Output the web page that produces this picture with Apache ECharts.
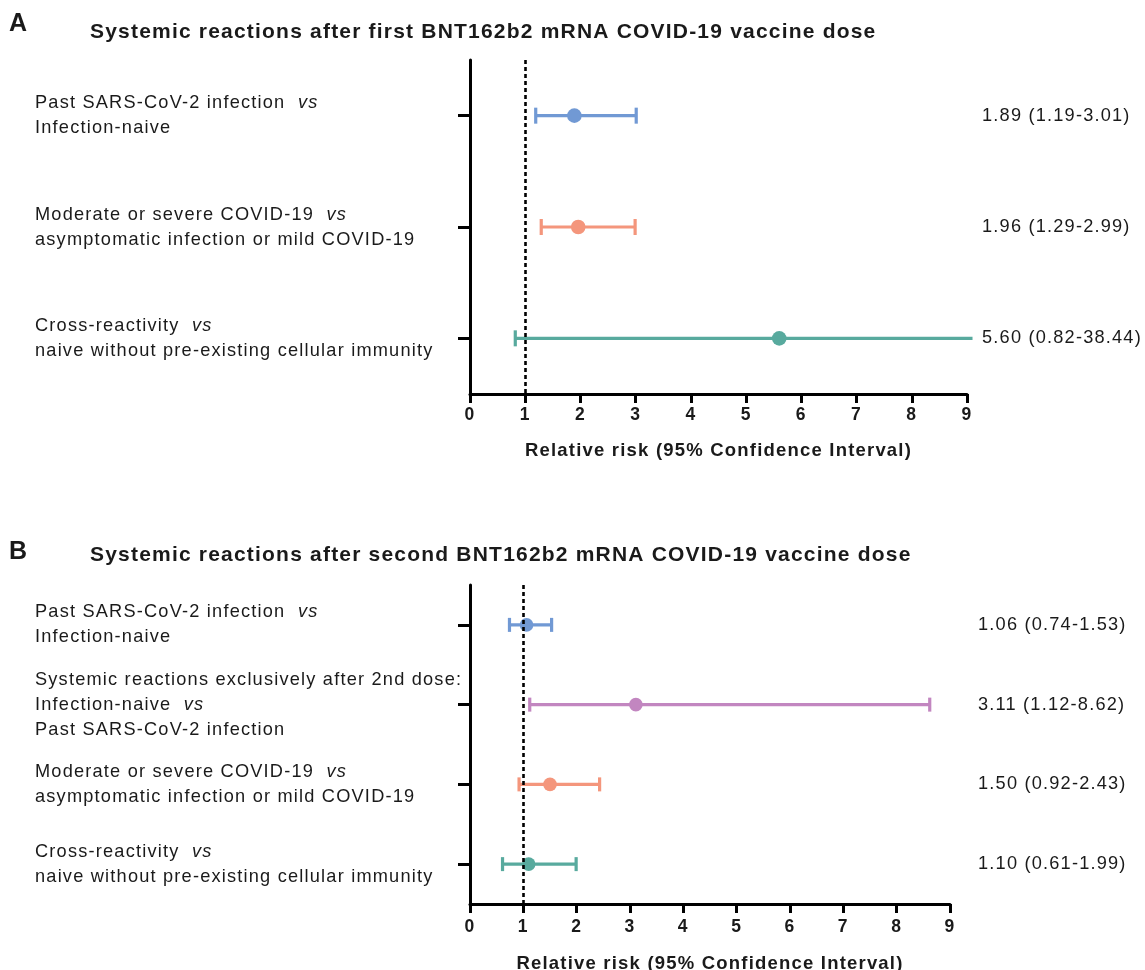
<!DOCTYPE html>
<html>
<head>
<meta charset="utf-8">
<script src="https://cdn.jsdelivr.net/npm/echarts@6/dist/echarts.min.js"></script>
<style>
html,body{margin:0;padding:0;background:#fff;}
#chart{width:1145px;height:970px;}
</style>
</head>
<body>
<div id="chart"></div>
<script>
// ---- Data: panel A (first dose) ----
const categoriesA = [
  "Past SARS-CoV-2 infection  vs\nInfection-naive",
  "Moderate or severe COVID-19  vs\nasymptomatic infection or mild COVID-19",
  "Cross-reactivity  vs\nnaive without pre-existing cellular immunity"
];
const estimateA = [1.89, 1.96, 5.60];
const lowerA    = [1.19, 1.29, 0.82];
const upperA    = [3.01, 2.99, 38.44];

// ---- Data: panel B (second dose) ----
const categoriesB = [
  "Past SARS-CoV-2 infection  vs\nInfection-naive",
  "Systemic reactions exclusively after 2nd dose:\nInfection-naive  vs\nPast SARS-CoV-2 infection",
  "Moderate or severe COVID-19  vs\nasymptomatic infection or mild COVID-19",
  "Cross-reactivity  vs\nnaive without pre-existing cellular immunity"
];
const estimateB = [1.06, 3.11, 1.50, 1.10];
const lowerB    = [0.74, 1.12, 0.92, 0.61];
const upperB    = [1.53, 8.62, 2.43, 1.99];

const xTicks = [0, 1, 2, 3, 4, 5, 6, 7, 8, 9];
const axisTitle = "Relative risk (95% Confidence Interval)";
const titleA = "Systemic reactions after first BNT162b2 mRNA COVID-19 vaccine dose";
const titleB = "Systemic reactions after second BNT162b2 mRNA COVID-19 vaccine dose";

// ---- Styles ----
const colorsA = ["#7199d4", "#f4967c", "#58aa9e"];
const colorsB = ["#7199d4", "#c286c0", "#f4967c", "#58aa9e"];
const FONT = "'Liberation Sans', Arial, Helvetica, sans-serif";
const TXT = "#1a1a1a";
const LETTER_SPACING = "1.2px";
const LABEL_SIZE = 18.2;

function fmt(v){ return v.toFixed(2); }
function ciText(est, lo, hi){
  return est.map((e,i)=> fmt(e) + " (" + fmt(lo[i]) + "-" + fmt(hi[i]) + ")");
}
const rightA = ciText(estimateA, lowerA, upperA);
const rightB = ciText(estimateB, lowerB, upperB);

function richLabel(value){
  return value.split("\n").map(line=>{
    if (/\s+vs$/.test(line)) {
      return "{n|" + line.replace(/vs$/, "") + "}{i|vs}";
    }
    return "{n|" + line + "}";
  }).join("\n");
}

const xMin = xTicks[0], xMax = xTicks[xTicks.length-1];

function makeRender(colors, capHalf, radius){
  return function(params, api){
    const cat = api.value(0);
    const lo = api.value(1), hi = api.value(2), est = api.value(3);
    const overflow = xMax + 0.1;
    const hiDraw = Math.min(hi, overflow);
    const pLo = api.coord([lo, cat]);
    const pHi = api.coord([hiDraw, cat]);
    const pE = api.coord([est, cat]);
    const c = colors[params.dataIndex];
    const st = {stroke: c, lineWidth: 3.2};
    const children = [
      {type:'line', shape:{x1:pLo[0], y1:pLo[1], x2:pHi[0], y2:pHi[1]}, style: st},
      {type:'line', shape:{x1:pLo[0], y1:pLo[1]-capHalf, x2:pLo[0], y2:pLo[1]+capHalf}, style: st}
    ];
    if (hi <= overflow) {
      children.push({type:'line', shape:{x1:pHi[0], y1:pHi[1]-capHalf, x2:pHi[0], y2:pHi[1]+capHalf}, style: st});
    }
    children.push({type:'circle', shape:{cx:pE[0], cy:pE[1], r:radius}, style:{fill:c}});
    return {type:'group', children};
  };
}

function xAxisCfg(gi, margin, gap){
  return {
    gridIndex: gi, type:'value', min:xMin, max:xMax, interval:1,
    axisLine:{show:true, lineStyle:{color:'#000', width:3}},
    axisTick:{show:true, length:9, lineStyle:{color:'#000', width:3}},
    splitLine:{show:false},
    axisLabel:{color:TXT, fontFamily:FONT, fontSize:17.5, fontWeight:'bold', margin:margin},
    name: axisTitle, nameLocation:'middle', nameGap:gap,
    nameTextStyle:{color:TXT, fontFamily:FONT, fontSize:18.5, fontWeight:'bold'}
  };
}
function yLeftCfg(gi, cats){
  return {
    gridIndex: gi, type:'category', data: cats, inverse:true, position:'left',
    axisLine:{show:true, onZero:false, lineStyle:{color:'#000', width:3}},
    axisTick:{show:true, alignWithLabel:true, length:12, lineStyle:{color:'#000', width:3}},
    splitLine:{show:false},
    axisLabel:{
      align:'left', margin:435, formatter: richLabel,
      rich:{
        n:{fontFamily:FONT, fontSize:LABEL_SIZE, color:TXT, lineHeight:25},
        i:{fontFamily:FONT, fontSize:LABEL_SIZE, color:TXT, lineHeight:25, fontStyle:'italic'}
      }
    }
  };
}
function yRightCfg(gi, labels, margin){
  return {
    gridIndex: gi, type:'category', data: labels, inverse:true, position:'right',
    axisLine:{show:false}, axisTick:{show:false}, splitLine:{show:false},
    axisLabel:{align:'left', margin: margin, fontFamily:FONT, fontSize:LABEL_SIZE, color:TXT}
  };
}

const dotted = {
  silent:true, symbol:['none','none'], label:{show:false},
  lineStyle:{color:'#000', type:[4,3], width:2.6},
  data:[{xAxis:1}]
};

const option = {
  animation:false,
  backgroundColor:'#fff',
  title:[
    {text:'A', left:9, top:11, padding:0, textStyle:{fontFamily:FONT, fontSize:25, fontWeight:'bold', color:TXT}},
    {text:titleA, left:90, top:21, padding:0, textStyle:{fontFamily:FONT, fontSize:21, fontWeight:'bold', color:TXT}},
    {text:'B', left:9, top:539, padding:0, textStyle:{fontFamily:FONT, fontSize:25, fontWeight:'bold', color:TXT}},
    {text:titleB, left:90, top:544, padding:0, textStyle:{fontFamily:FONT, fontSize:21, fontWeight:'bold', color:TXT}}
  ],
  grid:[
    {left:470, right:178, top:60, height:334, containLabel:false, outerBoundsMode:'none'},
    {left:470, right:195, top:585, height:319, containLabel:false, outerBoundsMode:'none'}
  ],
  xAxis:[xAxisCfg(0, 12, 47), xAxisCfg(1, 14, 50)],
  yAxis:[
    yLeftCfg(0, categoriesA), yRightCfg(0, rightA, 15),
    yLeftCfg(1, categoriesB), yRightCfg(1, rightB, 28)
  ],
  series:[
    {
      type:'custom', xAxisIndex:0, yAxisIndex:0, clip:false,
      renderItem: makeRender(colorsA, 8, 7.3),
      encode:{x:[1,2,3], y:0},
      data: categoriesA.map((c,i)=>[i, lowerA[i], upperA[i], estimateA[i]]),
      markLine: dotted, z:3
    },
    {
      type:'custom', xAxisIndex:1, yAxisIndex:2, clip:false,
      renderItem: makeRender(colorsB, 7, 6.8),
      encode:{x:[1,2,3], y:0},
      data: categoriesB.map((c,i)=>[i, lowerB[i], upperB[i], estimateB[i]]),
      markLine: dotted, z:3
    }
  ]
};

// Letter-spaced text like the original figure (canvas letterSpacing),
// applied both when measuring and when drawing text.
(function(){
  const P = CanvasRenderingContext2D.prototype;
  const fT = P.fillText, sT = P.strokeText, mT = P.measureText;
  P.fillText = function(){ try { this.letterSpacing = LETTER_SPACING; } catch(e) {} return fT.apply(this, arguments); };
  P.strokeText = function(){ try { this.letterSpacing = LETTER_SPACING; } catch(e) {} return sT.apply(this, arguments); };
  P.measureText = function(){ try { this.letterSpacing = LETTER_SPACING; } catch(e) {} return mT.apply(this, arguments); };
})();

const chart = echarts.init(document.getElementById('chart'), null, {renderer:'canvas'});
chart.setOption(option);
</script>
</body>
</html>
